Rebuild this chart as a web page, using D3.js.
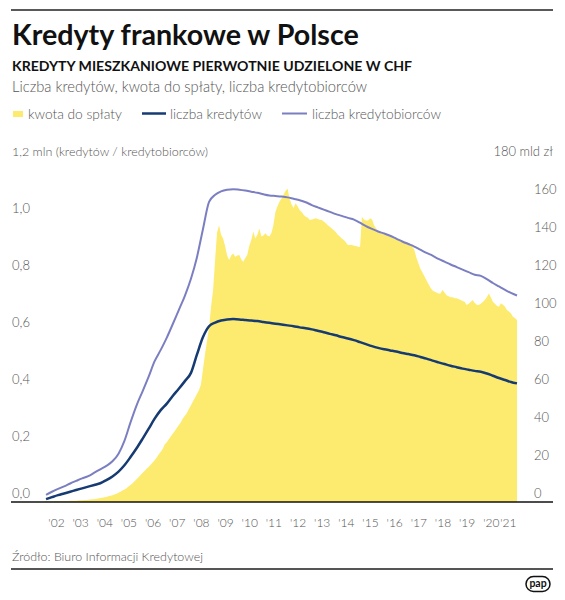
<!DOCTYPE html>
<html>
<head>
<meta charset="utf-8">
<script src="https://cdn.jsdelivr.net/npm/d3@7"></script>
<style>
  body { margin: 0; background: #fff; }
</style>
</head>
<body>
<div id="chart"></div>
<script>
// etykiety lat na osi X
var lata = ["'02","'03","'04","'05","'06","'07","'08","'09","'10","'11",
            "'12","'13","'14","'15","'16","'17","'18","'19","'20","'21"];

// liczba kredytobiorcow, mln (co kwartal od lutego 2002)
var kredytobiorcy = [
  0.025,0.036,0.046,0.055, 0.065,0.074,0.083,0.091, 0.103,0.115,0.127,0.143,
  0.170,0.215,0.280,0.340, 0.390,0.440,0.495,0.535, 0.578,0.625,0.675,0.725,
  0.785,0.860,0.960,1.055, 1.080,1.092,1.098,1.100, 1.098,1.095,1.091,1.087,
  1.082,1.078,1.076,1.074, 1.071,1.066,1.061,1.054, 1.044,1.036,1.028,1.020,
  1.012,1.006,0.999,0.993, 0.982,0.970,0.960,0.951, 0.944,0.936,0.926,0.916,
  0.907,0.898,0.887,0.876, 0.866,0.855,0.845,0.835, 0.826,0.817,0.808,0.799,
  0.795,0.784,0.770,0.758, 0.746,0.735,0.726
];

// liczba kredytow, mln (co kwartal od lutego 2002)
var kredyty = [
  0.010,0.017,0.024,0.030, 0.036,0.042,0.048,0.054, 0.060,0.066,0.077,0.090,
  0.107,0.129,0.158,0.189, 0.223,0.257,0.293,0.323, 0.346,0.373,0.398,0.425,
  0.454,0.518,0.580,0.618, 0.631,0.638,0.642,0.643, 0.642,0.640,0.638,0.636,
  0.633,0.630,0.627,0.624, 0.621,0.618,0.614,0.611, 0.607,0.602,0.597,0.591,
  0.586,0.580,0.575,0.569, 0.562,0.555,0.548,0.542, 0.537,0.533,0.529,0.524,
  0.520,0.516,0.510,0.504, 0.497,0.491,0.485,0.479, 0.474,0.469,0.465,0.461,
  0.458,0.452,0.444,0.436, 0.429,0.422,0.417
];

// kwota do splaty, mld zl (co miesiac od stycznia 2002 do sierpnia 2021)
var kwota = [
  0.2,0.2,0.3,0.3,0.3,0.3,0.4,0.4,0.4,0.5,0.5,0.5,
  0.5,0.6,0.6,0.7,0.7,0.8,0.9,0.9,1.0,1.1,1.2,1.3,
  1.4,1.5,1.7,1.9,2.1,2.3,2.5,2.7,3.0,3.3,3.6,3.9,
  4.4,4.9,5.4,6.0,6.6,7.3,8.2,9.0,9.9,11.0,12.0,13.0,
  14.3,15.4,16.4,17.5,18.5,19.6,20.8,22.0,23.5,25.0,26.5,28.0,
  30.5,31.5,33.0,34.5,36.0,37.5,39.0,40.5,42.0,44.0,45.5,47.0,
  49,51,53,55,57,59,62,70,78,85,92,103,
  112,128,142,146,141,139,135,130,127.6,130,131,129.4,
  130,130.3,128,126.7,128.5,130.3,135,138.2,142.6,139,141,144.3,
  140,140.5,141.7,140.5,140,141.7,146,153,156,158.4,160,162,
  164,165.4,160,157,155,157.5,156,154,153,151.5,150.5,150,
  148.7,149,149.3,149.6,149.3,148.9,148.7,148,147,146,145.2,144.3,
  143.3,142.2,141,140,139,138.2,137,135.5,135.5,135.5,135.2,135,
  134.6,134.5,150.5,149,148.5,148.5,149.6,149,146,144.3,143,142,
  141.5,141,140.8,140.5,140,139.5,139,139,138.5,138,137.5,137.3,
  137.3,136.5,136,134.6,133,129,126,123,121,119,117,115,
  113,111.5,111,110.5,110,110,111.8,110.5,109,108.5,108,108,
  107.5,107.4,107,106.5,106,105.6,103.9,104.5,105.5,106.5,105,104,
  103.9,104.5,105.5,106.5,108,110,108,105.6,104.5,103.5,103,104.8,
  104,103,101.3,100.5,99.5,97.7,97,96
];

var ticksL = [0, 0.2, 0.4, 0.6, 0.8, 1.0];
var ticksR = [0, 20, 40, 60, 80, 100, 120, 140, 160];

var yellow = '#fdeb6f', navy = '#163a72', lilac = '#7b7fc2', grey = '#555';

var W = 565, H = 600;
var svg = d3.select('#chart').append('svg')
  .attr('width', W).attr('height', H)
  .style('font-family', 'Lato, "Noto Sans", sans-serif');

var start = new Date(2002, 0, 1);
var x = d3.scaleTime().domain([start, new Date(2021, 7, 1)]).range([44, 517]);
var yL = d3.scaleLinear().domain([0, 1.2]).range([502, 160.7]);
var yR = d3.scaleLinear().domain([0, 180]).range([502, 160.7]);

var kwotaDane = kwota.map(function(v, i) { return { d: d3.timeMonth.offset(start, i), v: v }; });
function kwartalnie(arr) {
  return arr.map(function(v, i) { return { d: d3.timeMonth.offset(start, 1 + 3 * i), v: v }; });
}

function fit(t, w) {
  var l = t.node().getComputedTextLength();
  var fs = parseFloat(t.attr('font-size'));
  t.attr('font-size', (fs * w / l).toFixed(2));
  return t;
}

// naglowek
svg.append('line').attr('x1', 11).attr('x2', 553).attr('y1', 10).attr('y2', 10)
  .attr('stroke', '#222').attr('stroke-width', 1.3);

fit(svg.append('text').attr('x', 12).attr('y', 45).attr('font-size', 28)
  .attr('font-weight', 700).attr('fill', '#111').text('Kredyty frankowe w Polsce'), 347);
fit(svg.append('text').attr('x', 12).attr('y', 71).attr('font-size', 14)
  .attr('font-weight', 700).attr('fill', '#111').text('KREDYTY MIESZKANIOWE PIERWOTNIE UDZIELONE W CHF'), 400);
fit(svg.append('text').attr('x', 12).attr('y', 92).attr('font-size', 15)
  .attr('font-weight', 300).attr('fill', grey).text('Liczba kredytów, kwota do spłaty, liczba kredytobiorców'), 355);

// legenda
var leg = svg.append('g').attr('font-weight', 300).attr('fill', grey);
leg.append('rect').attr('x', 13).attr('y', 111).attr('width', 10).attr('height', 6).attr('fill', yellow);
fit(leg.append('text').attr('x', 28).attr('y', 119).attr('font-size', 14).text('kwota do spłaty'), 94);
leg.append('line').attr('x1', 142).attr('x2', 166).attr('y1', 113.5).attr('y2', 113.5)
  .attr('stroke', navy).attr('stroke-width', 2.5);
fit(leg.append('text').attr('x', 170).attr('y', 119).attr('font-size', 14).text('liczba kredytów'), 92);
leg.append('line').attr('x1', 282).attr('x2', 307).attr('y1', 113.5).attr('y2', 113.5)
  .attr('stroke', lilac).attr('stroke-width', 2);
fit(leg.append('text').attr('x', 312).attr('y', 119).attr('font-size', 14).text('liczba kredytobiorców'), 129);

// opisy osi
fit(svg.append('text').attr('x', 12).attr('y', yL(1.2) - 5).attr('font-size', 13)
  .attr('font-weight', 300).attr('fill', grey).text('1,2 mln (kredytów / kredytobiorców)'), 196);
svg.append('text').attr('x', 553).attr('y', yR(180) - 5).attr('font-size', 13)
  .attr('font-weight', 300).attr('fill', grey).attr('text-anchor', 'end').text('180 mld zł');

// obszar i linie
svg.append('path').datum(kwotaDane)
  .attr('fill', yellow)
  .attr('d', d3.area().x(function(d) { return x(d.d); }).y0(yR(0)).y1(function(d) { return yR(d.v); }));

var linia = d3.line().x(function(d) { return x(d.d); }).y(function(d) { return yL(d.v); })
  .curve(d3.curveMonotoneX);

svg.append('path').datum(kwartalnie(kredytobiorcy))
  .attr('fill', 'none').attr('stroke', lilac).attr('stroke-width', 2).attr('d', linia);
svg.append('path').datum(kwartalnie(kredyty))
  .attr('fill', 'none').attr('stroke', navy).attr('stroke-width', 2.5).attr('d', linia);

// osie
var fmt = function(d) { return d3.format('.1f')(d).replace('.', ','); };
var axL = svg.append('g').attr('transform', 'translate(12,0)')
  .call(d3.axisRight(yL).tickValues(ticksL).tickFormat(fmt).tickSize(0).tickPadding(0));
var axR = svg.append('g').attr('transform', 'translate(534,0)')
  .call(d3.axisRight(yR).tickValues(ticksR).tickSize(0).tickPadding(0));

var tickDaty = lata.map(function(l, i) { return i < 19 ? new Date(2002 + i, 6, 1) : new Date(2021, 2, 15); });
var axX = svg.append('g').attr('transform', 'translate(0,527)')
  .call(d3.axisBottom(x).tickValues(tickDaty)
    .tickFormat(function(d, i) { return lata[i]; }).tickSize(0).tickPadding(0));

[axL, axR].forEach(function(a) {
  a.select('.domain').remove();
  a.selectAll('text').attr('fill', grey).attr('font-size', 13).attr('font-weight', 300)
    .style('font-family', 'Lato, "Noto Sans", sans-serif').attr('dy', -5);
});
axX.select('.domain').remove();
axX.selectAll('text').attr('fill', grey).attr('font-size', 12).attr('font-weight', 300)
  .style('font-family', 'Lato, "Noto Sans", sans-serif').attr('dy', 0).attr('y', 0);

svg.append('line').attr('x1', 11).attr('x2', 553).attr('y1', 502).attr('y2', 502)
  .attr('stroke', '#111').attr('stroke-width', 1.5);

// stopka
fit(svg.append('text').attr('x', 12).attr('y', 561).attr('font-size', 13.5)
  .attr('font-weight', 300).attr('fill', grey).text('Źródło: Biuro Informacji Kredytowej'), 191);
svg.append('line').attr('x1', 11).attr('x2', 553).attr('y1', 569).attr('y2', 569)
  .attr('stroke', '#555').attr('stroke-width', 2);

var logo = svg.append('g').attr('transform', 'translate(538,584)');
logo.append('rect').attr('x', -12).attr('y', -7.5).attr('width', 24).attr('height', 15)
  .attr('rx', 7.5).attr('fill', 'none').attr('stroke', '#111').attr('stroke-width', 1.5);
logo.append('text').attr('text-anchor', 'middle').attr('y', 2.5).attr('font-size', 10.5)
  .attr('font-weight', 700).attr('fill', '#111').text('pap');
</script>
</body>
</html>
